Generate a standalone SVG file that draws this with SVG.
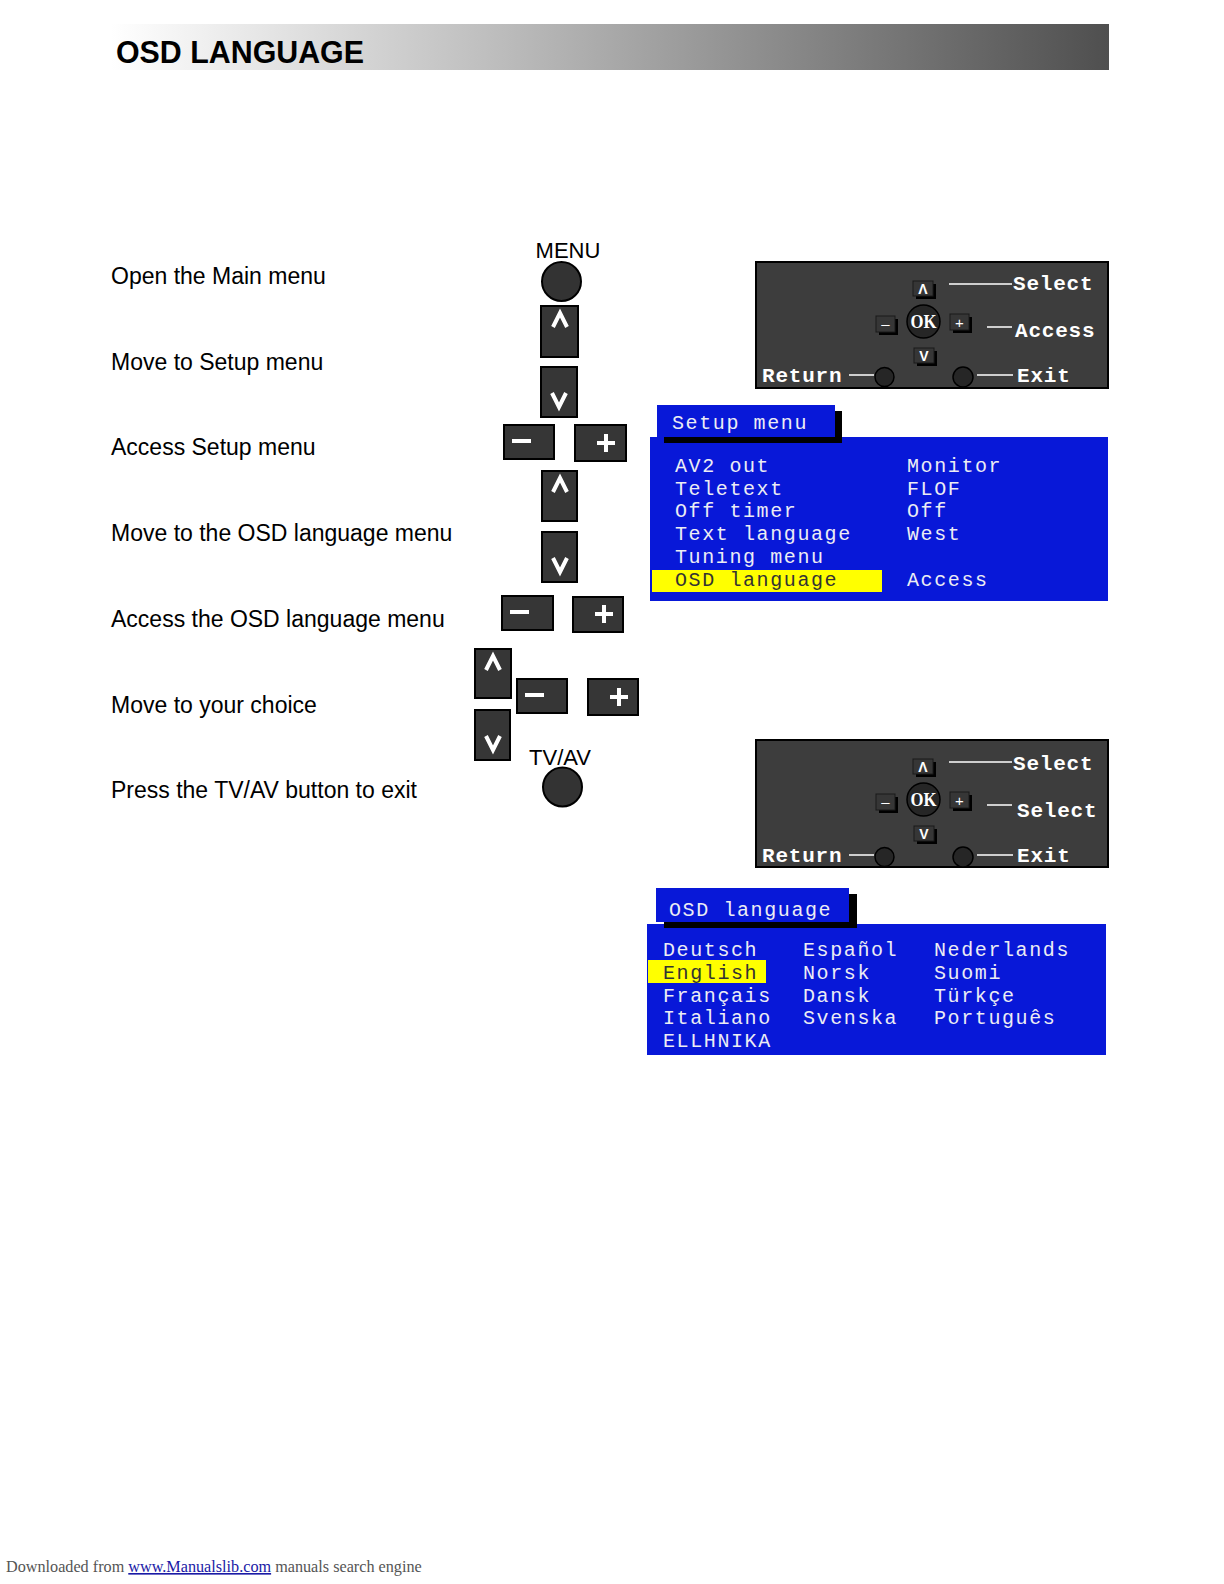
<svg xmlns="http://www.w3.org/2000/svg" width="1224" height="1584" viewBox="0 0 1224 1584">
<defs>
<linearGradient id="hdr" x1="0" y1="0" x2="1" y2="0">
<stop offset="0" stop-color="#ffffff"/>
<stop offset="0.15" stop-color="#e6e6e6"/>
<stop offset="0.5" stop-color="#a9a9a9"/>
<stop offset="1" stop-color="#4f4f4f"/>
</linearGradient>
<style>
.lbl{font-family:"Liberation Sans",Arial,sans-serif;font-size:23px;fill:#000}
.btn{fill:#363636;stroke:#000;stroke-width:2}
.sym{fill:none;stroke:#fff;stroke-width:4;stroke-linecap:butt}
.rnd{fill:#333;stroke:#000;stroke-width:2}
.panel{fill:#3d3d3d;stroke:#000;stroke-width:2}
.key{fill:#363636;stroke:#1a1a1a;stroke-width:1}
.ksh{fill:#000}
.ktx{font-family:"Liberation Sans",Arial,sans-serif;font-size:14px;font-weight:bold;fill:#fff;text-anchor:middle}
.ktn{font-family:"Liberation Sans",Arial,sans-serif;font-size:15px;fill:#fff;text-anchor:middle}
.ptx{font-family:"Liberation Mono","Courier New",monospace;font-size:21px;letter-spacing:0.8px;font-weight:bold;fill:#fff}
.pln{stroke:#fff;stroke-width:1.5}
.ok{fill:#262626;stroke:#000;stroke-width:1.5}
.blue{fill:#0818d8}
.mtx{font-family:"Liberation Mono","Courier New",monospace;font-size:20px;letter-spacing:1.6px;fill:#ececf4}
.hl{fill:#ffff00}
.htx{font-family:"Liberation Mono","Courier New",monospace;font-size:20px;letter-spacing:1.6px;fill:#333}
</style>
</defs>
<rect width="1224" height="1584" fill="#fff"/>

<g id="header">
<rect x="111" y="24" width="998" height="46" fill="url(#hdr)"/>
<text x="116" y="63" font-family="Liberation Sans,Arial,sans-serif" font-size="31" font-weight="bold" fill="#000" textLength="248" lengthAdjust="spacingAndGlyphs">OSD LANGUAGE</text>
</g>

<g id="steps">
<text class="lbl" x="111" y="284">Open the Main menu</text>
<text class="lbl" x="111" y="370">Move to Setup menu</text>
<text class="lbl" x="111" y="455">Access Setup menu</text>
<text class="lbl" x="111" y="541">Move to the OSD language menu</text>
<text class="lbl" x="111" y="627">Access the OSD language menu</text>
<text class="lbl" x="111" y="713">Move to your choice</text>
<text class="lbl" x="111" y="798">Press the TV/AV button to exit</text>
</g>

<g id="btn-menu">
<text x="568" y="258" font-family="Liberation Sans,Arial,sans-serif" font-size="22" fill="#000" text-anchor="middle">MENU</text>
<circle class="rnd" cx="561.5" cy="281.5" r="19.5"/>
</g>
<g id="btn-up1">
<rect class="btn" x="541" y="306" width="37" height="51"/>
<polyline class="sym" points="553,327 560,313 567,327"/>
</g>
<g id="btn-down1">
<rect class="btn" x="541" y="367" width="36" height="50"/>
<polyline class="sym" points="552,393 559,407 566,393"/>
</g>
<g id="btn-minus1">
<rect class="btn" x="504" y="425" width="50" height="34"/>
<line class="sym" x1="512" y1="441" x2="531" y2="441"/>
</g>
<g id="btn-plus1">
<rect class="btn" x="575" y="425" width="51" height="36"/>
<line class="sym" x1="597" y1="443" x2="615" y2="443"/>
<line class="sym" x1="606" y1="434" x2="606" y2="452"/>
</g>
<g id="btn-up2">
<rect class="btn" x="542" y="471" width="35" height="50"/>
<polyline class="sym" points="553,492 560,478 567,492"/>
</g>
<g id="btn-down2">
<rect class="btn" x="542" y="532" width="35" height="50"/>
<polyline class="sym" points="553,558 560,572 567,558"/>
</g>
<g id="btn-minus2">
<rect class="btn" x="502" y="596" width="51" height="34"/>
<line class="sym" x1="510" y1="612" x2="529" y2="612"/>
</g>
<g id="btn-plus2">
<rect class="btn" x="573" y="597" width="50" height="35"/>
<line class="sym" x1="595" y1="614" x2="613" y2="614"/>
<line class="sym" x1="604" y1="605" x2="604" y2="623"/>
</g>
<g id="btn-up3">
<rect class="btn" x="475" y="649" width="36" height="49"/>
<polyline class="sym" points="486,670 493,656 500,670"/>
</g>
<g id="btn-minus3">
<rect class="btn" x="517" y="679" width="50" height="34"/>
<line class="sym" x1="525" y1="695" x2="544" y2="695"/>
</g>
<g id="btn-plus3">
<rect class="btn" x="588" y="679" width="50" height="36"/>
<line class="sym" x1="610" y1="697" x2="628" y2="697"/>
<line class="sym" x1="619" y1="688" x2="619" y2="706"/>
</g>
<g id="btn-down3">
<rect class="btn" x="475" y="710" width="35" height="50"/>
<polyline class="sym" points="486,736 493,750 500,736"/>
</g>
<g id="btn-tvav">
<text x="560" y="765" font-family="Liberation Sans,Arial,sans-serif" font-size="22" fill="#000" text-anchor="middle">TV/AV</text>
<circle class="rnd" cx="562.5" cy="787" r="19.5"/>
</g>

<g id="panel1">
<rect class="panel" x="756" y="262" width="352" height="126"/>
<rect class="ksh" x="916" y="284" width="20" height="15"/>
<rect class="key" x="913" y="281" width="20" height="15"/>
<text class="ktx" x="923" y="294">Λ</text>
<line class="pln" x1="949" y1="284" x2="1012" y2="284"/>
<text class="ptx" x="1013" y="290">Select</text>
<rect class="ksh" x="879" y="319" width="19" height="16"/>
<rect class="key" x="876" y="316" width="19" height="16"/>
<text class="ktn" x="885.5" y="329">–</text>
<circle class="ok" cx="923.5" cy="321.5" r="16.5"/>
<text x="923.5" y="328" font-family="Liberation Serif,Times New Roman,serif" font-size="18" font-weight="bold" fill="#fff" text-anchor="middle" textLength="26" lengthAdjust="spacingAndGlyphs">OK</text>
<rect class="ksh" x="953" y="317" width="19" height="16"/>
<rect class="key" x="950" y="314" width="19" height="16"/>
<text class="ktn" x="959.5" y="328">+</text>
<line class="pln" x1="987" y1="327" x2="1012" y2="327"/>
<text class="ptx" x="1015" y="337">Access</text>
<rect class="ksh" x="917" y="351" width="20" height="15"/>
<rect class="key" x="914" y="348" width="20" height="15"/>
<text class="ktx" x="924" y="361">V</text>
<text class="ptx" x="762" y="382">Return</text>
<line class="pln" x1="849" y1="375" x2="874" y2="375"/>
<circle class="ok" cx="884.5" cy="377" r="9.5"/>
<circle class="ok" cx="963" cy="377" r="10"/>
<line class="pln" x1="977" y1="375" x2="1013" y2="375"/>
<text class="ptx" x="1017" y="382">Exit</text>
</g>

<g id="setup-menu">
<rect class="blue" x="650" y="437" width="458" height="164"/>
<rect fill="#000" x="664" y="411" width="178" height="32"/>
<rect class="blue" x="657" y="405" width="178" height="32"/>
<text class="mtx" x="672" y="429">Setup menu</text>
<text class="mtx" x="675" y="472">AV2 out</text>
<text class="mtx" x="675" y="495">Teletext</text>
<text class="mtx" x="675" y="517">Off timer</text>
<text class="mtx" x="675" y="540">Text language</text>
<text class="mtx" x="675" y="563">Tuning menu</text>
<rect class="hl" x="652" y="570" width="230" height="22"/>
<text class="htx" x="675" y="586">OSD language</text>
<text class="mtx" x="907" y="472">Monitor</text>
<text class="mtx" x="907" y="495">FLOF</text>
<text class="mtx" x="907" y="517">Off</text>
<text class="mtx" x="907" y="540">West</text>
<text class="mtx" x="907" y="586">Access</text>
</g>

<g id="panel2" transform="translate(0,478)">
<rect class="panel" x="756" y="262" width="352" height="127"/>
<rect class="ksh" x="916" y="284" width="20" height="15"/>
<rect class="key" x="913" y="281" width="20" height="15"/>
<text class="ktx" x="923" y="294">Λ</text>
<line class="pln" x1="949" y1="284" x2="1012" y2="284"/>
<text class="ptx" x="1013" y="292">Select</text>
<rect class="ksh" x="879" y="319" width="19" height="16"/>
<rect class="key" x="876" y="316" width="19" height="16"/>
<text class="ktn" x="885.5" y="329">–</text>
<circle class="ok" cx="923.5" cy="321.5" r="16.5"/>
<text x="923.5" y="328" font-family="Liberation Serif,Times New Roman,serif" font-size="18" font-weight="bold" fill="#fff" text-anchor="middle" textLength="26" lengthAdjust="spacingAndGlyphs">OK</text>
<rect class="ksh" x="953" y="317" width="19" height="16"/>
<rect class="key" x="950" y="314" width="19" height="16"/>
<text class="ktn" x="959.5" y="328">+</text>
<line class="pln" x1="987" y1="327" x2="1012" y2="327"/>
<text class="ptx" x="1017" y="339">Select</text>
<rect class="ksh" x="917" y="351" width="20" height="15"/>
<rect class="key" x="914" y="348" width="20" height="15"/>
<text class="ktx" x="924" y="361">V</text>
<text class="ptx" x="762" y="384">Return</text>
<line class="pln" x1="849" y1="377" x2="874" y2="377"/>
<circle class="ok" cx="884.5" cy="379" r="9.5"/>
<circle class="ok" cx="963" cy="379" r="10"/>
<line class="pln" x1="977" y1="377" x2="1013" y2="377"/>
<text class="ptx" x="1017" y="384">Exit</text>
</g>

<g id="osd-language-menu">
<rect class="blue" x="647" y="924" width="459" height="131"/>
<rect fill="#000" x="664" y="894" width="193" height="34"/>
<rect class="blue" x="656" y="888" width="193" height="34"/>
<text class="mtx" x="669" y="916">OSD language</text>
<rect class="hl" x="648" y="960" width="118" height="23"/>
<text class="mtx" x="663" y="956">Deutsch</text>
<text class="htx" x="663" y="979">English</text>
<text class="mtx" x="663" y="1002">Français</text>
<text class="mtx" x="663" y="1024">Italiano</text>
<text class="mtx" x="663" y="1047">ELLHNIKA</text>
<text class="mtx" x="803" y="956">Español</text>
<text class="mtx" x="803" y="979">Norsk</text>
<text class="mtx" x="803" y="1002">Dansk</text>
<text class="mtx" x="803" y="1024">Svenska</text>
<text class="mtx" x="934" y="956">Nederlands</text>
<text class="mtx" x="934" y="979">Suomi</text>
<text class="mtx" x="934" y="1002">Türkçe</text>
<text class="mtx" x="934" y="1024">Português</text>
</g>

<g id="connectors"></g>

<g id="footer">
<text x="6" y="1572" font-family="Liberation Serif,Times New Roman,serif" font-size="16.2" fill="#555">Downloaded from <tspan fill="#1a1aa6" text-decoration="underline">www.Manualslib.com</tspan> manuals search engine</text>
</g>
</svg>
